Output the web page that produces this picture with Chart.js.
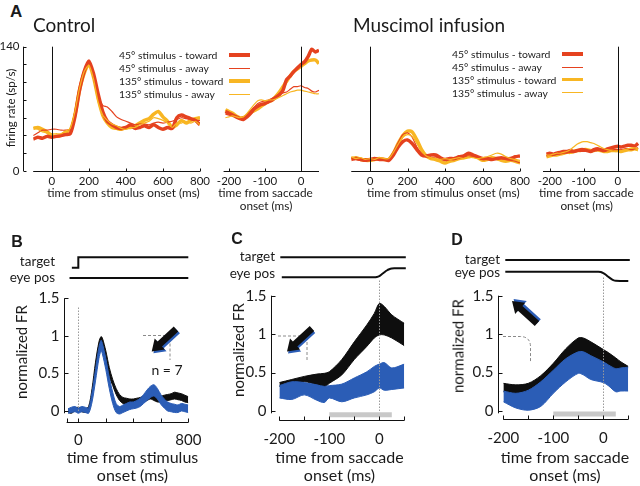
<!DOCTYPE html>
<html>
<head>
<meta charset="utf-8">
<script src="https://cdn.jsdelivr.net/npm/chart.js@4.4.1/dist/chart.umd.min.js"></script>
<style>
  body { margin: 0; background: #fff; }
  #fig { position: relative; width: 640px; height: 486px; overflow: hidden; font-family: Lato, 'Open Sans', sans-serif; color: #1a1a1a; }
  #fig canvas { position: absolute; }
  .t { position: absolute; white-space: nowrap; line-height: 1; }
  .b { font-family: 'Liberation Sans', Arial, sans-serif; font-weight: bold; }
</style>
</head>
<body>
<div id="fig"></div>
<script>
// ---- data: panel A (firing rate, sp/s) ----
const stimX = [-100,-75,-50,-25,0,25,50,75,100,125,150,175,200,225,250,275,300,325,350,375,400,425,450,475,500,525,550,575,600,625,650,675,700,725,750,775,800];
const ctrl45Toward  = [36,38,37,39,38,39,40,41,42,61,91,112,124,110,87,67,56,52,49,48,49,52,48,49,51,49,52,49,47,49,48,60,63,61,59,57,52];
const ctrl45Away    = [40,43,46,46,47,47,46,46,47,67,95,114,123,108,86,74,72,67,61,58,56,54,52,53,53,52,54,55,54,55,56,58,60,59,58,57,57];
const ctrl135Toward = [48,49,47,44,40,39,40,44,46,63,91,110,120,106,82,63,54,49,48,47,49,49,51,54,57,59,64,67,61,56,49,52,57,54,57,59,60];
const ctrl135Away   = [49,47,44,43,42,42,42,45,48,67,93,112,119,104,78,63,57,53,51,48,47,49,49,52,54,56,60,59,57,54,49,54,54,56,54,56,52];

const sacX = [-210,-200,-190,-180,-170,-160,-150,-140,-130,-120,-110,-100,-90,-80,-70,-60,-50,-40,-30,-20,-10,0,10,20,30,40,50];
const ctrlSac45Toward  = [67,65,63,61,59,58,61,65,70,73,75,76,78,80,83,86,91,103,107,112,116,120,123,129,137,134,136];
const ctrlSac45Away    = [64,63,62,61,60,61,64,68,72,76,78,79,80,82,84,87,88,89,92,95,95,96,94,93,90,89,91];
const ctrlSac135Toward = [69,67,65,62,60,60,62,66,68,70,73,76,78,80,84,89,95,101,107,112,115,118,121,124,125,125,121];
const ctrlSac135Away   = [60,61,62,61,60,61,65,70,75,79,80,79,80,80,81,83,85,87,89,90,91,91,90,89,88,87,87];

const musc45Toward  = [13,14,13,12,13,14,13,13,12,18,27,33,35,31,24,18,17,18,18,15,13,14,14,16,17,20,18,16,14,14,13,14,15,14,14,16,17];
const musc45Away    = [15,13,12,14,13,12,14,13,14,22,32,41,43,38,27,20,16,15,16,14,12,14,15,14,16,17,16,15,14,15,13,14,14,13,12,11,9];
const musc135Toward = [14,15,13,12,12,13,14,13,13,20,31,40,45,44,35,24,17,14,13,11,9,11,12,14,15,16,17,15,12,13,15,14,12,11,12,11,9];
const musc135Away   = [16,14,15,13,14,13,15,14,14,21,30,38,41,39,31,22,17,15,14,13,14,13,14,15,14,16,15,14,15,16,18,20,19,16,14,13,12];

const muscSacX = [-210,-200,-190,-180,-170,-160,-150,-140,-130,-120,-110,-100,-90,-80,-70,-60,-50,-40,-30,-20,-10,0,10,20,30,40,50,60];
const muscSac45Toward  = [19,20,19,20,21,22,22,23,22,23,24,24,23,22,24,25,24,23,25,26,27,28,27,28,29,29,28,31];
const muscSac45Away    = [17,18,18,19,19,20,20,21,21,22,22,22,23,22,22,23,23,22,23,23,24,24,24,25,25,24,25,26];
const muscSac135Toward = [16,17,18,18,19,20,21,21,22,23,23,24,24,23,23,24,23,22,22,23,23,23,22,23,24,24,25,24];
const muscSac135Away   = [18,18,19,20,20,21,22,24,27,30,32,33,33,32,31,29,27,25,24,23,22,22,23,24,25,26,26,25];

const stimTicks = [0, 200, 400, 600, 800];
const sacTicks = [-200, -100, 0];

// ---- data: panel B (normalized FR, bands) ----
const bX = [-75,-50,-25,0,25,50,75,100,125,150,165,175,200,225,250,275,300,325,350,375,400,425,450,475,500,525,550,575,600,625,650,675,700,725,750,775,800];
const bBlackHi = [0.03,0.02,0.04,0.05,0.04,0.03,0.06,0.30,0.65,0.92,0.99,0.97,0.80,0.58,0.42,0.30,0.22,0.18,0.17,0.16,0.16,0.17,0.18,0.20,0.22,0.24,0.22,0.20,0.20,0.21,0.22,0.23,0.25,0.24,0.23,0.21,0.19];
const bBlackLo = [-0.02,-0.03,0.00,0.00,-0.01,-0.02,0.00,0.22,0.55,0.82,0.90,0.88,0.68,0.46,0.34,0.22,0.14,0.10,0.08,0.07,0.07,0.09,0.10,0.12,0.14,0.16,0.14,0.12,0.12,0.13,0.14,0.15,0.16,0.15,0.14,0.12,0.11];
const bBlueHi  = [0.03,0.05,0.06,0.04,0.06,0.05,0.04,0.25,0.55,0.85,0.94,0.90,0.70,0.45,0.25,0.10,0.06,0.08,0.10,0.12,0.12,0.14,0.17,0.22,0.28,0.33,0.35,0.30,0.22,0.16,0.12,0.10,0.09,0.08,0.10,0.09,0.08];
const bBlueLo  = [-0.03,-0.02,-0.01,-0.03,-0.01,-0.02,-0.03,0.12,0.40,0.70,0.80,0.76,0.55,0.30,0.10,-0.02,-0.04,-0.02,0.00,0.02,0.03,0.04,0.06,0.10,0.14,0.18,0.20,0.16,0.09,0.04,0.00,-0.01,-0.02,-0.02,0.00,-0.01,-0.02];

// ---- data: panels C and D ----
const cX = [-200,-175,-150,-125,-110,-100,-75,-50,-25,-10,0,10,25,50];
const cBlackHi = [0.37,0.41,0.45,0.48,0.49,0.51,0.67,0.90,1.12,1.27,1.40,1.36,1.25,1.14];
const cBlackLo = [0.32,0.34,0.38,0.34,0.31,0.36,0.47,0.67,0.84,0.95,0.99,0.99,0.95,0.85];
const cBlueHi  = [0.33,0.38,0.37,0.34,0.32,0.33,0.35,0.43,0.51,0.58,0.61,0.63,0.56,0.61];
const cBlueLo  = [0.17,0.15,0.21,0.14,0.11,0.17,0.12,0.17,0.21,0.25,0.30,0.27,0.28,0.30];

const dX = [-200,-175,-150,-125,-100,-75,-50,-40,-25,0,10,25,35,50];
const dBlackHi = [0.36,0.34,0.36,0.46,0.62,0.81,0.95,0.95,0.90,0.80,0.76,0.69,0.64,0.58];
const dBlackLo = [0.25,0.22,0.26,0.37,0.52,0.67,0.76,0.76,0.71,0.63,0.59,0.54,0.55,0.56];
const dBlueHi  = [0.26,0.23,0.27,0.38,0.53,0.68,0.77,0.77,0.72,0.64,0.60,0.55,0.56,0.57];
const dBlueLo  = [0.12,0.04,0.01,0.06,0.23,0.38,0.49,0.47,0.41,0.37,0.33,0.25,0.26,0.26];

// analysis window (grey bar) and task traces
const sigWindow = [-100, 25];
const targetBX = [-47, 0, 0, 800],  targetBY = [1, 1, 2, 2];
const eyeBX = [-64, 800],           eyeBY = [0, 0];
const targetCX = [-198, 53],        targetCY = [2, 2];
const eyeCX = [-195,-10,-5,0,5,10,15,20,25,30,53];
const eyeCY = [0,0,0.03,0.12,0.3,0.5,0.68,0.8,0.87,0.9,0.9];
const targetDX = [-196, 53],        targetDY = [2, 2];
const eyeDX = [-196,-10,-5,0,5,10,15,20,25,50];
const eyeDY = [0.89,0.89,0.85,0.75,0.6,0.4,0.22,0.08,0.02,0];

const RED = '#e5421f', YEL = '#f8b623', BLK = '#0e0e0e', BLU = '#2b5db6';
const fig = document.getElementById('fig');

// draws the spines, ticks, tick labels and reference lines from the chart scales
const axesPlugin = {
  id: 'axes',
  afterDatasetsDraw(chart, args, o) {
    const ctx = chart.ctx, xs = chart.scales.x, ys = chart.scales.y, a = chart.chartArea;
    const px = v => Math.round(v) + 0.5;
    ctx.save();
    ctx.lineWidth = 1;
    (o.vlines || []).forEach(v => {
      const x = px(xs.getPixelForValue(v.x));
      ctx.strokeStyle = v.color || '#111';
      ctx.setLineDash(v.dash || []);
      ctx.beginPath();
      ctx.moveTo(x, ys.getPixelForValue(v.from));
      ctx.lineTo(x, v.toPx !== undefined ? v.toPx : ys.getPixelForValue(v.to));
      ctx.stroke();
    });
    ctx.setLineDash([]);
    ctx.strokeStyle = '#111';
    ctx.fillStyle = '#1a1a1a';
    if (o.y) {
      const y = o.y, sx = px(a.left - (y.offset || 0));
      ctx.beginPath();
      ctx.moveTo(sx, ys.getPixelForValue(y.from));
      ctx.lineTo(sx, ys.getPixelForValue(y.to));
      y.ticks.forEach(t => { const p = px(ys.getPixelForValue(t)); ctx.moveTo(sx, p); ctx.lineTo(sx + y.len, p); });
      ctx.stroke();
      ctx.font = y.font; ctx.textAlign = 'right'; ctx.textBaseline = 'middle';
      y.labels.forEach(([v, s]) => ctx.fillText(s, sx - y.gap, ys.getPixelForValue(v)));
    }
    if (o.x) {
      const x = o.x, sy = px(a.bottom);
      ctx.beginPath();
      ctx.moveTo(xs.getPixelForValue(x.from), sy);
      ctx.lineTo(xs.getPixelForValue(x.to), sy);
      x.ticks.forEach(t => { const p = px(xs.getPixelForValue(t)); ctx.moveTo(p, sy); ctx.lineTo(p, sy - x.len); });
      ctx.stroke();
      ctx.font = x.font; ctx.textAlign = 'center'; ctx.textBaseline = 'middle';
      x.labels.forEach(([v, s]) => ctx.fillText(s, xs.getPixelForValue(v), sy + x.gap));
    }
    ctx.restore();
  }
};

// box and area are [left, top, right, bottom] in page pixels
function makeChart(box, area, xr, yr, datasets, axes) {
  const c = document.createElement('canvas');
  c.width = box[2] - box[0];
  c.height = box[3] - box[1];
  c.style.left = box[0] + 'px';
  c.style.top = box[1] + 'px';
  fig.appendChild(c);
  return new Chart(c, {
    type: 'line',
    data: { datasets },
    options: {
      responsive: false, animation: false, events: [],
      layout: { padding: { left: area[0] - box[0], top: area[1] - box[1], right: box[2] - area[2], bottom: box[3] - area[3] } },
      scales: {
        x: { type: 'linear', display: false, min: xr[0], max: xr[1] },
        y: { type: 'linear', display: false, min: yr[0], max: yr[1] }
      },
      plugins: { legend: { display: false }, tooltip: { enabled: false }, axes: axes || {} }
    },
    plugins: [axesPlugin]
  });
}

function series(xs, ys, color, width, extra) {
  return Object.assign({
    data: xs.map((x, i) => ({ x, y: ys[i] })),
    borderColor: color, borderWidth: width, pointRadius: 0, tension: 0.25, fill: false
  }, extra || {});
}

function band(xs, hi, lo, color, order) {
  return [
    series(xs, hi, color, 1, { fill: '+1', backgroundColor: color, order, tension: 0.3 }),
    series(xs, lo, color, 1, { order, tension: 0.3 })
  ];
}

function fourLines(xs, a, b, c, d) {
  return [
    series(xs, d, YEL, 1.2, { order: 1 }),
    series(xs, b, RED, 1.2, { order: 2 }),
    series(xs, a, RED, 3.5, { order: 3 }),
    series(xs, c, YEL, 3.5, { order: 4 })
  ];
}

function label(s, x, y, size, align, cls, rot) {
  const d = document.createElement('div');
  d.className = 't' + (cls ? ' ' + cls : '');
  d.textContent = s;
  d.style.left = x + 'px';
  d.style.top = y + 'px';
  d.style.fontSize = size + 'px';
  const tx = align === 'center' ? '-50%' : align === 'right' ? '-100%' : '0';
  d.style.transform = `translate(${tx},-50%)` + (rot ? ' rotate(-90deg)' : '');
  fig.appendChild(d);
}

// ---- panel A ----
const fontA = '11.5px Lato';
const xAxisA = (from, to, ticks) => ({ from, to, ticks, len: 3, gap: 10, font: fontA, labels: ticks.map(t => [t, String(t)]) });

makeChart([0, 30, 215, 200], [33.2, 46.7, 200, 171], [-100, 800], [0, 140],
  fourLines(stimX, ctrl45Toward, ctrl45Away, ctrl135Toward, ctrl135Away),
  { y: { offset: 9.9, from: 0, to: 140, ticks: [0, 20, 40, 60, 80, 100, 120, 140], len: 3, gap: 4, font: fontA, labels: [[0, '0'], [140, '140']] },
    x: xAxisA(-100, 800, stimTicks), vlines: [{ x: 0, from: 0, to: 140 }] });

makeChart([215, 30, 330, 200], [223.6, 46.7, 319, 171], [-215, 50], [0, 140],
  fourLines(sacX, ctrlSac45Toward, ctrlSac45Away, ctrlSac135Toward, ctrlSac135Away),
  { x: xAxisA(-215, 50, sacTicks), vlines: [{ x: 0, from: 0, to: 140 }] });

makeChart([330, 30, 535, 200], [351.25, 46.7, 520, 171], [-100, 800], [0, 140],
  fourLines(stimX, musc45Toward, musc45Away, musc135Toward, musc135Away),
  { x: xAxisA(-100, 800, stimTicks), vlines: [{ x: 0, from: 0, to: 140 }] });

makeChart([535, 30, 640, 200], [543, 46.7, 639.8, 171], [-220, 65], [0, 140],
  fourLines(muscSacX, muscSac45Toward, muscSac45Away, muscSac135Toward, muscSac135Away),
  { x: xAxisA(-220, 65, sacTicks), vlines: [{ x: 0, from: 0, to: 140 }] });

// ---- panels B, C, D ----
const fontB = '15px Lato';
const yAxisB = offset => ({ offset, from: -0.03, to: 1.5, ticks: [0, 0.5, 1, 1.5], len: 4, gap: 5, font: fontB,
  labels: [[0, '0'], [0.5, '0.5'], [1, '1'], [1.5, '1.5']] });
const sigBar = y => series(sigWindow, [y, y], '#c8c8c8', 5, { tension: 0, borderCapStyle: 'butt' });
const trace = (xs, ys) => series(xs, ys, BLK, 2, { tension: 0, clip: false });
const smooth = (xs, ys) => series(xs, ys, BLK, 2, { tension: 0, cubicInterpolationMode: 'monotone', clip: false });

makeChart([60, 250, 200, 290], [64.3, 257.3, 188.3, 278], [-102, 800], [0, 2],
  [trace(targetBX, targetBY), trace(eyeBX, eyeBY)]);
makeChart([0, 285, 210, 450], [64.3, 298.3, 188.3, 421.7], [-102, 800], [-0.1425, 1.5],
  [...band(bX, bBlackHi, bBlackLo, BLK, 2), ...band(bX, bBlueHi, bBlueLo, BLU, 1)],
  { y: yAxisB(0), x: { from: -85, to: 800, ticks: [-85, 0, 200, 400, 600, 800], len: 4, gap: 17.5, font: fontB, labels: [[0, '0'], [800, '800']] },
    vlines: [{ x: 0, from: 0, to: 1.38, color: '#9a9a9a', dash: [1.5, 1.5] }] });

makeChart([270, 250, 420, 285], [279.3, 257.3, 404.3, 277.3], [-200, 50], [0, 2],
  [trace(targetCX, targetCY), smooth(eyeCX, eyeCY)]);
makeChart([210, 270, 420, 450], [279.3, 295.7, 404.3, 420], [-200, 50], [-0.117, 1.5],
  [...band(cX, cBlackHi, cBlackLo, BLK, 2), ...band(cX, cBlueHi, cBlueLo, BLU, 1), sigBar(-0.05)],
  { y: yAxisB(8.6), x: { from: -200, to: 50, ticks: [-200, -150, -100, -50, 0, 50], len: 4, gap: 18.3, font: fontB, labels: [[-200, '-200'], [-100, '-100'], [0, '0']] },
    vlines: [{ x: 0, from: 0, toPx: 10, color: '#9a9a9a', dash: [1.5, 1.5] }] });

makeChart([490, 250, 640, 290], [503.3, 260, 628.3, 281], [-200, 50], [0, 2],
  [trace(targetDX, targetDY), smooth(eyeDX, eyeDY)]);
makeChart([430, 270, 640, 450], [503.3, 295.7, 628.3, 419.3], [-200, 50], [-0.108, 1.5],
  [...band(dX, dBlackHi, dBlackLo, BLK, 2), ...band(dX, dBlueHi, dBlueLo, BLU, 1), sigBar(-0.04)],
  { y: yAxisB(5.6), x: { from: -200, to: 50, ticks: [-200, -150, -100, -50, 0, 50], len: 4, gap: 18.3, font: fontB, labels: [[-200, '-200'], [-100, '-100'], [0, '0']] },
    vlines: [{ x: 0, from: 0, toPx: 7, color: '#9a9a9a', dash: [1.5, 1.5] }] });

// ---- text ----
label('A', 10, 11, 17, 'left', 'b');
label('Control', 33, 24, 19);
label('Muscimol infusion', 353, 24, 19);
label('firing rate (sp/s)', 11, 108, 11.5, 'center', '', true);
label('time from stimulus onset (ms)', 123.5, 192.5, 11.8, 'center');
label('time from saccade', 265.5, 192.5, 11.8, 'center');
label('onset (ms)', 266, 206, 11.8, 'center');
label('time from stimulus onset (ms)', 443.3, 192.5, 11.8, 'center');
label('time from saccade', 586.3, 192.5, 11.8, 'center');
label('onset (ms)', 586.7, 206, 11.8, 'center');

const legendNames = ['45° stimulus - toward', '45° stimulus - away', '135° stimulus - toward', '135° stimulus - away'];
const legendStyle = [[RED, 3.2], [RED, 1], [YEL, 3.2], [YEL, 1]];
function legend(tx, lx1, lx2, ys) {
  legendNames.forEach((s, i) => {
    label(s, tx, ys[i], 10.4);
    const l = document.createElement('div');
    l.style.cssText = `position:absolute;left:${lx1}px;width:${lx2 - lx1}px;top:${ys[i] - legendStyle[i][1] / 2}px;height:${legendStyle[i][1]}px;background:${legendStyle[i][0]}`;
    fig.appendChild(l);
  });
}
legend(119, 229, 250, [55, 68.3, 81, 94]);
legend(452, 562, 583, [54, 67, 79.5, 92.5]);

label('B', 17, 242, 16, 'center', 'b');
label('C', 237, 238.5, 16, 'center', 'b');
label('D', 457, 240, 16, 'center', 'b');
[[55, 262, 278], [275, 257, 274], [500, 260, 273]].forEach(([x, y1, y2]) => {
  label('target', x, y1, 13.5, 'right');
  label('eye pos', x, y2, 13.5, 'right');
});
[[21, 352], [237.5, 350], [458.3, 346]].forEach(([x, y]) => label('normalized FR', x, y, 15, 'center', '', true));
[[132.5, 'time from stimulus'], [339.5, 'time from saccade'], [565, 'time from saccade']].forEach(([x, s]) => {
  label(s, x, 457, 16, 'center');
  label('onset (ms)', x, 475, 16, 'center');
});
label('n = 7', 167, 370, 14, 'center');

// ---- direction arrows and receptive-field sketches ----
const NS = 'http://www.w3.org/2000/svg';
const svg = document.createElementNS(NS, 'svg');
svg.setAttribute('width', 640);
svg.setAttribute('height', 486);
svg.style.cssText = 'position:absolute;left:0;top:0';
fig.appendChild(svg);

function add(tag, attrs) {
  const e = document.createElementNS(NS, tag);
  Object.entries(attrs).forEach(([k, v]) => e.setAttribute(k, v));
  svg.appendChild(e);
}
function arrow(x1, y1, x2, y2, color) {
  const L = Math.hypot(x2 - x1, y2 - y1), ux = (x2 - x1) / L, uy = (y2 - y1) / L, nx = -uy, ny = ux;
  const sw = 3.3, hw = 7.5, hl = 11, bx = x2 - ux * hl, by = y2 - uy * hl;
  const p = [[x1 + nx * sw, y1 + ny * sw], [bx + nx * sw, by + ny * sw], [bx + nx * hw, by + ny * hw], [x2, y2],
             [bx - nx * hw, by - ny * hw], [bx - nx * sw, by - ny * sw], [x1 - nx * sw, y1 - ny * sw]];
  add('polygon', { points: p.map(q => q.join(',')).join(' '), fill: color });
}
const dash = { fill: 'none', stroke: '#8a8a8a', 'stroke-width': 1, 'stroke-dasharray': '3 2' };
add('path', Object.assign({ d: 'M143,335.5 H170 V360' }, dash));
add('path', Object.assign({ d: 'M278,336 H307 V362' }, dash));
add('path', Object.assign({ d: 'M503,336.5 H520 Q530.5,336.5 530.5,347 V362' }, dash));
arrow(177.7, 330.8, 153.4, 353.3, BLU);
arrow(176, 329, 151.7, 351.5, BLK);
arrow(313, 330.5, 288, 353.5, BLU);
arrow(312, 328.5, 287, 351.5, BLK);
arrow(538.6, 321.6, 513.6, 299.1, BLU);
arrow(537, 323.5, 512, 301, BLK);
</script>
</body>
</html>
